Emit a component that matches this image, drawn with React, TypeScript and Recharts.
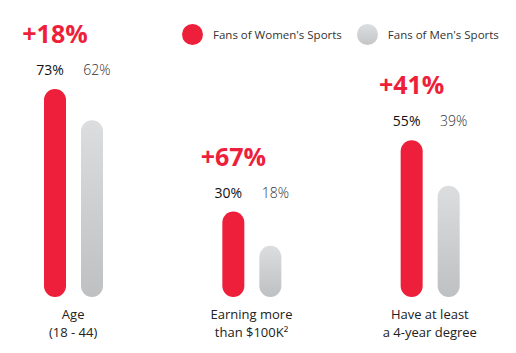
import { BarChart, Bar, XAxis, YAxis, LabelList } from "recharts";

const categories = [
  ["Age", "(18 - 44)"],
  ["Earning more", "than $100K²"],
  ["Have at least", "a 4-year degree"],
];
const women = [73, 30, 55];
const men = [62, 18, 39];
const lifts = ["+18%", "+67%", "+41%"];

const RED = "#ee1f3b";
const FONT = "'Open Sans', sans-serif";

const data = categories.map((lines, i) => ({
  name: lines.join(" "),
  women: women[i],
  men: men[i],
}));

const legendItems = [
  { label: "Fans of Women's Sports", swatch: RED },
  { label: "Fans of Men's Sports", swatch: "linear-gradient(#dcdddf, #c4c5c7)" },
];

const CategoryTick = (props: any) => {
  const { x, y, payload } = props;
  const lines = categories[payload.index];
  return (
    <g>
      {lines.map((l, i) => (
        <text
          key={i}
          x={x}
          y={y + 21.5 + i * 18}
          textAnchor="middle"
          fill="#222"
          fontSize={13}
          fontFamily={FONT}
        >
          {l}
        </text>
      ))}
    </g>
  );
};

const WomenLabel = (props: any) => {
  const { x, y, width, value, index } = props;
  const cx = x + width / 2;
  return (
    <g fontFamily={FONT}>
      <text x={cx} y={y - 46} textAnchor="middle" fill={RED} fontSize={25} fontWeight={700}>
        {lifts[index]}
      </text>
      <text x={cx - 5} y={y - 14} textAnchor="middle" fill="#111" fontSize={14}>
        {value}%
      </text>
    </g>
  );
};

const MenLabel = (props: any) => {
  const { x, y, width, height, value, index } = props;
  // put it level with the women's label of the same group
  const bottom = y + height;
  const womenTop = bottom - (height * women[index]) / men[index];
  return (
    <text
      x={x + width / 2 + 5}
      y={womenTop - 14}
      textAnchor="middle"
      fill="#333"
      fontSize={14}
      fontWeight={300}
      fontFamily={FONT}
    >
      {value}%
    </text>
  );
};

const LegendBox = () => (
  <div
    style={{
      position: "absolute",
      top: 24,
      left: 182,
      display: "flex",
      alignItems: "center",
      whiteSpace: "nowrap",
      fontFamily: FONT,
      fontSize: 11.5,
      color: "#333",
    }}
  >
    {legendItems.map((it, i) => (
      <div key={i} style={{ display: "flex", alignItems: "center", marginRight: 15 }}>
        <span
          style={{
            width: 21,
            height: 21,
            borderRadius: "50%",
            background: it.swatch,
            marginRight: 10,
            display: "inline-block",
          }}
        />
        {it.label}
      </div>
    ))}
  </div>
);

export default function App() {
  return (
    <div style={{ position: "absolute", left: 0, top: 0, width: 516, height: 353, background: "#fff" }}>
      <BarChart
        width={516}
        height={353}
        data={data}
        margin={{ top: 12, right: -3, bottom: 0, left: -16 }}
        barSize={22}
        barGap={15}
      >
        <defs>
          <linearGradient id="menGrad" x1="0" y1="0" x2="0" y2="1">
            <stop offset="0%" stopColor="#dcdddf" />
            <stop offset="100%" stopColor="#bfc0c2" />
          </linearGradient>
        </defs>
        <XAxis
          dataKey="name"
          height={56}
          axisLine={false}
          tickLine={false}
          tickSize={0}
          tickMargin={0}
          interval={0}
          tick={<CategoryTick />}
        />
        <YAxis hide domain={[0, 100]} />
        <Bar dataKey="women" fill={RED} radius={11} isAnimationActive={false}>
          <LabelList dataKey="women" content={<WomenLabel />} />
        </Bar>
        <Bar dataKey="men" fill="url(#menGrad)" radius={11} isAnimationActive={false}>
          <LabelList dataKey="men" content={<MenLabel />} />
        </Bar>
      </BarChart>
      <LegendBox />
    </div>
  );
}
